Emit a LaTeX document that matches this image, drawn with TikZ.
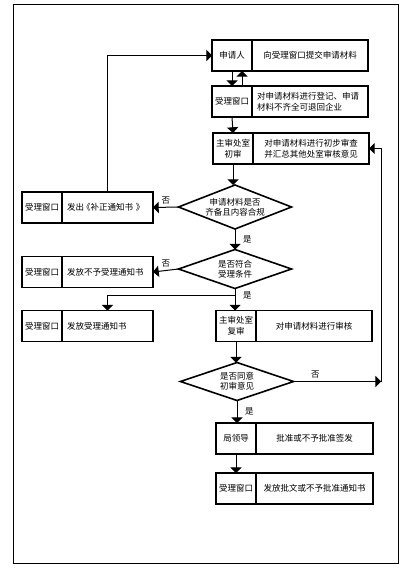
\documentclass[tikz,border=0pt]{standalone}
\usepackage{fontspec}
\newfontfamily\cjk{Noto Sans CJK SC}
\usepackage{tikz}
\usetikzlibrary{shapes.geometric, arrows}
\usetikzlibrary{calc, positioning}

\begin{document}
\begin{tikzpicture}[x=1pt, y=-1pt,
	every node/.style={font=\cjk\fontsize{8.5}{11}\selectfont, inner sep=0pt, outer sep=0pt},
	cab/.style={draw, line width=1.6pt, minimum width=40pt, minimum height=31pt, align=center},
	cuerpo/.style={draw, line width=1.6pt, minimum width=#1, minimum height=31pt, align=center},
	cuerpoizq/.style={draw, line width=1.6pt, text width=#1, inner xsep=5pt, minimum height=31pt, align=left},
	rombo/.style={draw, diamond, line width=1.6pt, aspect=2.6, minimum width=113pt, minimum height=#1, align=center, font=\cjk\fontsize{8.5}{10}\selectfont},
	flecha/.style={line width=1pt, -triangle 90},
	rot/.style={font=\cjk\fontsize{8.5}{10}\selectfont}]
	\useasboundingbox (0,0) rectangle (410,575);
	%marco
	\draw[line width=1.5pt] (13.3,4.3) rectangle (398.3,563.3);
	
	%columna derecha (arriba)
	\node[cab] (sq) at (232,55.5) {申请人};
	\node[cuerpo=116pt, right=0pt of sq] (sqT) {向受理窗口提交申请材料};
	\node[cab] (sl) at (232,101.5) {受理窗口};
	\node[cuerpoizq=106pt, right=0pt of sl] (slT) {对申请材料进行登记、申请\\材料不齐全可退回企业};
	\node[cab] (cs) at (233,148.5) {主审处室\\初审};
	\node[cuerpo=116pt, right=0pt of cs] (csT) {对申请材料进行初步审查\\并汇总其他处室审核意见};
	
	%rombos
	\node[rombo=44pt] (d1) at (235,207) {申请材料是否\\齐备且内容合规};
	\node[rombo=39pt] (d2) at (235,269) {是否符合\\受理条件};
	\node[rombo=38pt] (d3) at (237,381.5) {是否同意\\初审意见};
	
	%columna izquierda
	\node[cab] (l1) at (42,207.5) {受理窗口};
	\node[cuerpoizq=81pt, right=0pt of l1] (l1T) {\mbox{发出\kern-2pt《补正通知书\hspace{3pt}》}};
	\node[cab] (l2) at (42,272) {受理窗口};
	\node[cuerpoizq=81pt, right=0pt of l2] (l2T) {发放不予受理通知书};
	\node[cab] (l3) at (42,326) {受理窗口};
	\node[cuerpoizq=81pt, right=0pt of l3] (l3T) {发放受理通知书};
	
	%columna derecha (abajo)
	\node[cab] (cf) at (236,326) {主审处室\\复审};
	\node[cuerpo=116pt, right=0pt of cf] (cfT) {对申请材料进行审核};
	\node[cab] (ld) at (236,438.5) {局领导};
	\node[cuerpo=117pt, right=0pt of ld] (ldT) {批准或不予批准签发};
	\node[cab] (ft) at (236,488.5) {受理窗口};
	\node[cuerpo=117pt, right=0pt of ft] (ftT) {发放批文或不予批准通知书};
	
	%flechas
	\draw[flecha] (sq.south) -- (sl.north);
	\draw[flecha] ([xshift=10pt]sl.north) -- ([xshift=10pt]sq.south);
	\draw[flecha] (sl.south) -- (cs.north);
	\draw[flecha] (cs.south) -- (cs.south |- d1.north);
	\draw[flecha] (d1.west) -- (l1T.east) node[rot, midway, above=3pt] (n1) {否};
	\draw[flecha] (l1T.north) |- (sq.west);
	\draw[flecha] (d1.south) -- (d2.north) node[rot, midway, right=8pt] (s1) {是};
	\draw[flecha] (d2.west) -- (l2T.east) node[rot, midway, above=3pt] (n2) {否};
	\coordinate (rama) at ($(d2.south)+(0,7)$);
	\draw[flecha] (d2.south) -- (d2.south |- cf.north);
	\node[rot, right=8pt of rama] (s2) {是};
	\draw[flecha] (rama) -| (l3T.north);
	\draw[flecha] (cf.south) -- (cf.south |- d3.north);
	\coordinate (der) at (381,381.5);
	\draw[flecha] (d3.east) -- (der) node[rot, pos=.25, above=3pt] (n3) {否};
	\draw[flecha] (der) |- (csT.east);
	\draw[flecha] (d3.south) -- (d3.south |- ld.north) node[rot, midway, right=8pt] (s3) {是};
	\draw[flecha] (ld.south) -- (ft.north);
\end{tikzpicture}
\end{document}
